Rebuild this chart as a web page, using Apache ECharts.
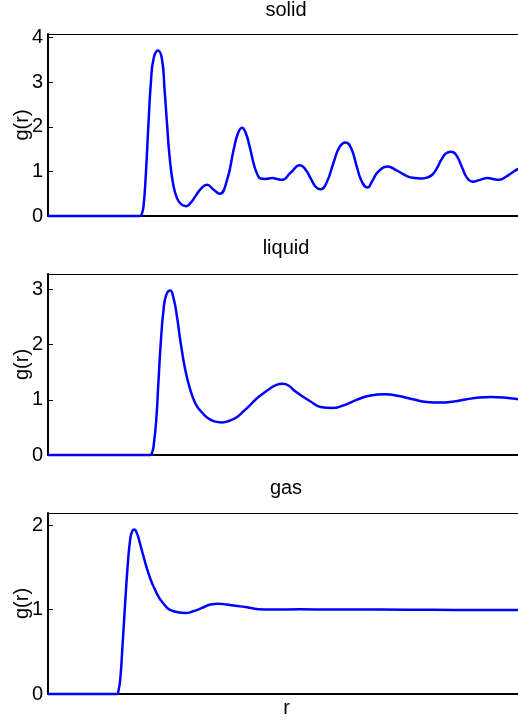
<!DOCTYPE html>
<html>
<head>
<meta charset="utf-8">
<script src="https://cdn.jsdelivr.net/npm/echarts@6/dist/echarts.min.js"></script>
<style>
html,body{margin:0;padding:0;background:#fff;}
#chart{width:518px;height:722px;}
</style>
</head>
<body>
<div id="chart"></div>
<script>
// Panel titles and axis labels
var panelTitles = ['solid', 'liquid', 'gas'];
var yAxisName = 'g(r)';
var xAxisName = 'r';
var yTickMax = [4.08, 3.28, 2.145];

// solid g(r)
var rSolid = [0, 92, 93.5, 95.3, 97.7, 100.3, 102.7, 105.3, 109.7, 113.7, 116.3, 118.7, 121.3, 124.7, 128.7, 133, 138, 142.5, 147, 153, 158.7, 165.3, 171.3, 178.7, 185.3, 189.5, 193.7, 197, 200.3, 206, 209, 212, 217, 223.7, 228.5, 233.7, 242, 251.3, 257, 262, 267, 272, 278, 285, 291, 297, 302.5, 308, 313, 318.7, 324, 329, 338.7, 348, 358.7, 366, 372, 378, 383.7, 388, 393, 397, 402, 407, 413, 418, 423.7, 431, 438.7, 444, 450.3, 457, 463, 468.7, 476];
var gSolid = [0, 0, 0.04, 0.21, 0.96, 2.09, 3.0, 3.52, 3.71, 3.52, 2.84, 2.09, 1.34, 0.74, 0.40, 0.26, 0.22, 0.30, 0.44, 0.62, 0.70, 0.59, 0.50, 0.81, 1.49, 1.85, 1.98, 1.88, 1.64, 1.11, 0.93, 0.84, 0.83, 0.85, 0.83, 0.81, 0.97, 1.14, 1.04, 0.85, 0.66, 0.60, 0.75, 1.20, 1.55, 1.65, 1.52, 1.12, 0.78, 0.64, 0.80, 0.98, 1.11, 1.02, 0.89, 0.85, 0.84, 0.86, 0.93, 1.07, 1.28, 1.40, 1.44, 1.38, 1.10, 0.86, 0.77, 0.81, 0.85, 0.83, 0.81, 0.88, 0.97, 1.05, 1.12];

// liquid g(r)
var rLiquid = [0, 102, 104, 105.3, 108, 110.3, 112.7, 115.3, 118, 122, 125.3, 128.7, 132, 137, 142, 145.3, 148.7, 153.7, 158.7, 166, 173.7, 181, 188.7, 195, 202, 210, 222, 228, 234, 240, 247, 262, 272, 283.3, 295, 308, 322, 336, 350, 364, 378, 391.7, 405, 418, 430, 441.7, 455, 470, 476];
var gLiquid = [0, 0, 0.05, 0.15, 0.63, 1.36, 2.08, 2.63, 2.90, 2.98, 2.84, 2.51, 2.08, 1.54, 1.18, 1.01, 0.88, 0.77, 0.68, 0.61, 0.59, 0.62, 0.69, 0.79, 0.91, 1.05, 1.21, 1.27, 1.29, 1.26, 1.15, 0.97, 0.87, 0.85, 0.90, 1.00, 1.08, 1.10, 1.07, 1.01, 0.96, 0.95, 0.97, 1.01, 1.04, 1.05, 1.04, 1.01, 1.00];

// gas g(r)
var rGas = [0, 68.7, 70.5, 72, 74.3, 77, 79.7, 82, 84, 86.3, 88.5, 90.3, 95.3, 100.3, 107, 115.3, 125.3, 137, 145, 153.7, 162, 170.3, 178, 187, 197, 204, 210, 222, 252, 282, 332, 382, 432, 476];
var gGas = [0, 0, 0.05, 0.16, 0.56, 1.08, 1.55, 1.83, 1.93, 1.95, 1.91, 1.85, 1.63, 1.43, 1.23, 1.07, 0.98, 0.96, 0.98, 1.02, 1.06, 1.07, 1.06, 1.045, 1.03, 1.015, 1.005, 1.0, 1.005, 1.0, 1.0, 0.998, 0.995, 0.995];

var rMax = 476;
var FONT = '"Liberation Sans", Arial, Helvetica, sans-serif';

function pairs(r, g) { return r.map(function (v, i) { return [v, g[i]]; }); }
var seriesData = [pairs(rSolid, gSolid), pairs(rLiquid, gLiquid), pairs(rGas, gGas)];

var grids = [
  { left: 48, top: 34, width: 477, height: 182, outerBoundsMode: 'none', containLabel: false },
  { left: 48, top: 274, width: 477, height: 181, outerBoundsMode: 'none', containLabel: false },
  { left: 48, top: 513, width: 477, height: 181, outerBoundsMode: 'none', containLabel: false }
];
var titleY = [10.5, 248, 488];

var xAxes = [], yAxes = [], series = [], graphics = [];
for (var i = 0; i < 3; i++) {
  xAxes.push({
    type: 'value', gridIndex: i, min: 0, max: rMax, position: 'bottom',
    axisLine: { show: true, onZero: false, lineStyle: { color: '#000', width: 2 } },
    axisTick: { show: false }, axisLabel: { show: false }, splitLine: { show: false },
    name: i === 2 ? xAxisName : '', nameLocation: 'middle', nameGap: 4, nameMoveOverlap: false,
    nameTextStyle: { fontFamily: FONT, fontSize: 20, color: '#000', verticalAlign: 'top' }
  });
  xAxes.push({
    type: 'value', gridIndex: i, min: 0, max: rMax, position: 'top',
    axisLine: { show: true, onZero: false, lineStyle: { color: '#000', width: 1 } },
    axisTick: { show: false }, axisLabel: { show: false }, splitLine: { show: false }
  });
  yAxes.push({
    type: 'value', gridIndex: i, min: 0, max: yTickMax[i], interval: 1,
    axisLine: { show: true, onZero: false, lineStyle: { color: '#000', width: 2 } },
    axisTick: { show: true, inside: true, length: 5, lineStyle: { color: '#000', width: 1 } },
    axisLabel: { show: true, showMaxLabel: false, margin: 5, color: '#000', fontFamily: FONT, fontSize: 20,
      formatter: function (v) { return Math.abs(v - Math.round(v)) < 1e-9 ? String(Math.round(v)) : ''; } },
    splitLine: { show: false },
    name: yAxisName, nameLocation: 'middle', nameGap: 16, nameMoveOverlap: false,
    nameTextStyle: { fontFamily: FONT, fontSize: 20, color: '#000' }
  });
  series.push({
    type: 'line', xAxisIndex: 2 * i, yAxisIndex: i, data: seriesData[i],
    showSymbol: false, smooth: 0.5, clip: false,
    lineStyle: { color: '#0000ff', width: 2.5 }, z: 5
  });
  graphics.push({
    type: 'text', x: 286, y: titleY[i],
    style: { text: panelTitles[i], font: '20px ' + FONT, fill: '#000', align: 'center', verticalAlign: 'middle' }
  });
}

var chart = echarts.init(document.getElementById('chart'), null, { renderer: 'canvas' });
chart.setOption({
  animation: false,
  backgroundColor: '#fff',
  grid: grids,
  xAxis: xAxes,
  yAxis: yAxes,
  series: series,
  graphic: graphics
});
</script>
</body>
</html>
